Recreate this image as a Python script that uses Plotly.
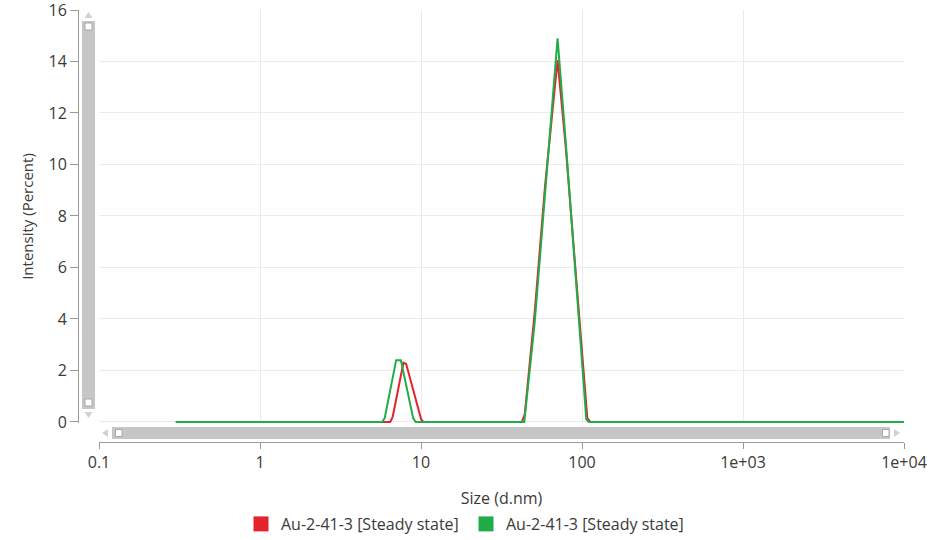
import plotly.graph_objects as go

# size distribution by intensity
red_size = [0.3, 6.44, 6.67, 7.78, 8.09, 10.03, 10.36, 42.3, 44.1, 50.9, 59.0, 70.5, 79.2, 91.6, 107.9, 112.6, 10000]
red_int = [0, 0, 0.2, 2.3, 2.25, 0.1, 0, 0, 0.3, 4.3, 9.2, 14.05, 10.7, 5.7, 0.15, 0, 0]

green_size = [0.3, 5.74, 5.95, 7.01, 7.50, 8.94, 9.27, 43.8, 50.9, 59.0, 70.5, 79.2, 91.6, 106.3, 110.2, 10000]
green_int = [0, 0, 0.15, 2.4, 2.4, 0.15, 0, 0, 3.9, 9.0, 14.9, 10.9, 5.6, 0.1, 0, 0]

series_names = ["Au-2-41-3 [Steady state]", "Au-2-41-3 [Steady state]"]
x_tickvals = [0.1, 1, 10, 100, 1000, 10000]
x_ticktext = ["0.1", "1", "10", "100", "1e+03", "1e+04"]
y_tickvals = [0, 2, 4, 6, 8, 10, 12, 14, 16]

RED = "#e5232a"
GREEN = "#20ac48"
FONT = "Open Sans"
TXT = "#3a3a3a"
AX = "#9a9a9a"
GRID = "#ebebeb"
BAR = "#c6c6c6"

W, H = 950, 540
ML, MR, MT, MB = 78, 46, 10, 98
pw = W - ML - MR
ph = H - MT - MB


def px(x):
    return (x - ML) / pw


def py(y):
    return (H - MB - y) / ph


fig = go.Figure()
fig.add_trace(go.Scatter(x=red_size, y=red_int, mode="lines", line=dict(color=RED, width=2),
                         showlegend=False, hoverinfo="x+y"))
fig.add_trace(go.Scatter(x=green_size, y=green_int, mode="lines", line=dict(color=GREEN, width=2),
                         showlegend=False, hoverinfo="x+y"))
# legend squares
for name, c in zip(series_names, [RED, GREEN]):
    fig.add_trace(go.Scatter(x=[None], y=[None], mode="markers", name=name,
                             marker=dict(symbol="square", size=15, color=c)))
# carrier for the offset axes
fig.add_trace(go.Scatter(x=[None], y=[None], xaxis="x2", yaxis="y2", showlegend=False, hoverinfo="skip"))

xdom = [px(99), 1]
ydom = [py(423), 1]
yrange = [-0.04, 16]

fig.update_layout(
    width=W, height=H,
    margin=dict(l=ML, r=MR, t=MT, b=MB, autoexpand=False),
    paper_bgcolor="white", plot_bgcolor="white",
    font=dict(family=FONT, size=16, color=TXT),
    xaxis=dict(type="log", range=[-1, 4], domain=xdom, tickvals=x_tickvals, automargin=False,
               showticklabels=False, ticks="", showgrid=True, gridcolor=GRID, gridwidth=1,
               zeroline=False, showline=False),
    yaxis=dict(range=yrange, domain=ydom, tickvals=y_tickvals, showticklabels=False, ticks="",
               automargin=False, showgrid=True, gridcolor=GRID, gridwidth=1, zeroline=False,
               showline=False),
    xaxis2=dict(type="log", range=[-1, 4], overlaying="x", anchor="free", position=0,
                automargin=False, tickvals=x_tickvals, ticktext=x_ticktext, ticks="outside",
                ticklen=6, tickcolor=AX, showline=True, linecolor=AX, linewidth=1, showgrid=False,
                zeroline=False, tickfont=dict(size=16, color=TXT), ticklabeloverflow="allow",
                title=dict(text="Size (d.nm)", font=dict(size=16, color=TXT), standoff=20)),
    yaxis2=dict(range=yrange, overlaying="y", anchor="free", position=0, automargin=False,
                tickvals=y_tickvals, ticks="outside", ticklen=8, tickcolor=AX,
                showline=True, linecolor=AX, linewidth=1, showgrid=False, zeroline=False,
                tickfont=dict(size=16, color=TXT), ticklabeloverflow="allow",
                title=dict(text="Intensity (Percent)", font=dict(size=15, color=TXT), standoff=10)),
    legend=dict(orientation="h", x=px(241), xanchor="left", y=py(524), yanchor="middle",
                font=dict(size=16, color=TXT), itemwidth=30, entrywidth=180,
                bgcolor="rgba(0,0,0,0)"),
)

# scrollbars of the original viewer
shapes = [
    # vertical bar
    dict(type="rect", x0=px(82), x1=px(95), y0=py(21), y1=py(409), fillcolor=BAR, line=dict(width=0)),
    dict(type="rect", x0=px(85), x1=px(92), y0=py(23), y1=py(30), fillcolor="white", line=dict(color="#a8a8a8", width=1)),
    dict(type="rect", x0=px(85), x1=px(92), y0=py(399), y1=py(406), fillcolor="white", line=dict(color="#a8a8a8", width=1)),
    dict(type="path", path=f"M {px(84.5)} {py(18)} L {px(92.5)} {py(18)} L {px(88.5)} {py(12)} Z",
         fillcolor="#d2d2d2", line=dict(width=0)),
    dict(type="path", path=f"M {px(84.5)} {py(412)} L {px(92.5)} {py(412)} L {px(88.5)} {py(418)} Z",
         fillcolor="#d2d2d2", line=dict(width=0)),
    # horizontal bar
    dict(type="rect", x0=px(112), x1=px(890), y0=py(427), y1=py(439), fillcolor=BAR, line=dict(width=0)),
    dict(type="rect", x0=px(115.5), x1=px(122), y0=py(429.5), y1=py(436.5), fillcolor="white", line=dict(color="#a8a8a8", width=1)),
    dict(type="rect", x0=px(882.5), x1=px(889), y0=py(429.5), y1=py(436.5), fillcolor="white", line=dict(color="#a8a8a8", width=1)),
    dict(type="path", path=f"M {px(108)} {py(429)} L {px(108)} {py(437)} L {px(102)} {py(433)} Z",
         fillcolor="#d2d2d2", line=dict(width=0)),
    dict(type="path", path=f"M {px(894)} {py(429)} L {px(894)} {py(437)} L {px(900)} {py(433)} Z",
         fillcolor="#d2d2d2", line=dict(width=0)),
]
for s in shapes:
    s["xref"] = "paper"
    s["yref"] = "paper"
    s["layer"] = "above"
fig.update_layout(shapes=shapes)

# the page's default 8px body margin would push the figure off the window edge
fig.write_html("out.html", config={"displayModeBar": False},
               post_script="document.body.style.margin='0px';")
